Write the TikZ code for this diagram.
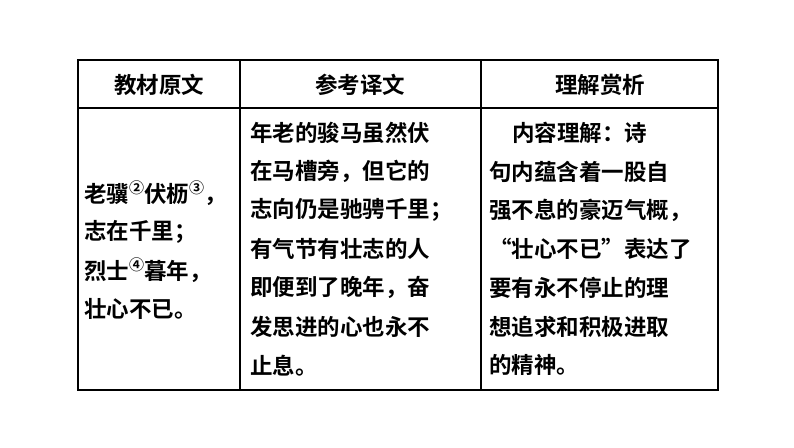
\documentclass[tikz,border=0pt]{standalone}
\usepackage{fontspec}
\newfontfamily\cjk{Noto Sans CJK SC}[BoldFont={Noto Sans CJK SC Bold}]
\begin{document}
\begin{tikzpicture}[x=1pt,y=-1pt,
  txt/.style={anchor=west,inner sep=0pt,font=\cjk\bfseries\fontsize{22.5}{22.5}\selectfont},
  hd/.style={inner sep=0pt,font=\cjk\bfseries\fontsize{22.5}{22.5}\selectfont},
  grid/.style={line width=1.2pt,black}]
\useasboundingbox (0,0) rectangle (794,447);
\draw[grid] (78,60) rectangle (718,390);
\draw[grid] (78,108) -- (718,108);
\draw[grid] (240,60) -- (240,390);
\draw[grid] (481,60) -- (481,390);
\node[hd] (h1) at (159,85) {教材原文};
\node[hd] (h2) at (360,85) {参考译文};
\node[hd] (h3) at (600,85) {理解赏析};
\newcommand{\cn}[1]{\raisebox{0.4em}{\fontsize{15}{15}\selectfont #1}}
\node[txt] (a1) at (84,193) {老骥\cn{②}伏枥\cn{③}，};
\node[txt] (a2) at (84,232) {志在千里；};
\node[txt] (a3) at (84,270) {烈士\cn{④}暮年，};
\node[txt] (a4) at (84,309) {壮心不已。};
\foreach \t [count=\i] in {年老的骏马虽然伏,在马槽旁，但它的,志向仍是驰骋千里；,有气节有壮志的人,即便到了晚年，奋,发思进的心也永不,止息。}
  \node[txt] (b\i) at (250,133+38.7*\i-38.7) {\t};
\node[txt] (c1) at (512,133) {内容理解：诗};
\foreach \t [count=\i] in {句内蕴含着一股自,强不息的豪迈气概，,“壮心不已”表达了,要有永不停止的理,想追求和积极进取,的精神。}
  \node[txt] (c\i x) at (489,133+38.7*\i) {\t};
\end{tikzpicture}
\end{document}
